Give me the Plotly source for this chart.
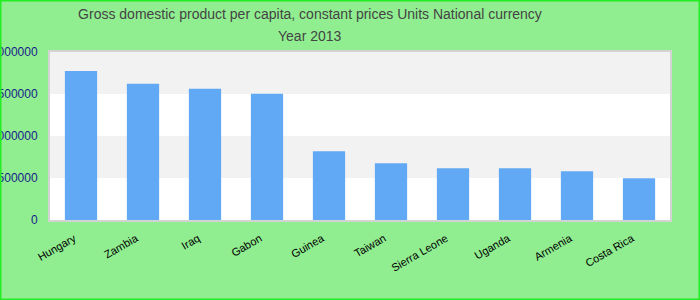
import plotly.graph_objects as go

countries = ["Hungary", "Zambia", "Iraq", "Gabon", "Guinea", "Taiwan",
             "Sierra Leone", "Uganda", "Armenia", "Costa Rica"]
gdp = [1775000, 1621000, 1562000, 1503000, 817000, 675000,
       615000, 615000, 580000, 497000]
y_ticks = [0, 500000, 1000000, 1500000, 2000000]
title_lines = ["Gross domestic product per capita, constant prices Units National currency",
               "Year 2013"]

L, R, T, B = 50, 30, 52, 80
PW, PH = 700 - L - R, 300 - T - B
TITLE_CX = 310

fig = go.Figure(go.Bar(x=countries, y=gdp, marker_color="#62a9f5",
                       marker_line_width=0, width=0.52))

shapes = []
for lo, hi in [(500000, 1000000), (1500000, 2000000)]:
    shapes.append(dict(type="rect", xref="paper", yref="y", x0=0, x1=1, y0=lo, y1=hi,
                       fillcolor="#f2f2f2", line_width=0, layer="below"))
# outer green border
shapes.append(dict(type="rect", xref="paper", yref="paper",
                   x0=-L/PW, x1=1+R/PW, y0=-B/PH, y1=1+T/PH,
                   line=dict(color="#22ee22", width=3), fillcolor="rgba(0,0,0,0)"))

fig.update_layout(
    width=700, height=300,
    margin=dict(l=L, r=R, t=T, b=B, autoexpand=False),
    paper_bgcolor="#90ee90",
    plot_bgcolor="white",
    font=dict(family="Liberation Sans, Arial, sans-serif", size=11, color="black"),
    title=dict(text=title_lines[0], x=TITLE_CX/700, xanchor="center",
               y=1 - 14/300, yanchor="middle",
               font=dict(size=14, color="#444444")),
    annotations=[dict(text=title_lines[1], xref="paper", yref="paper",
                      x=(TITLE_CX - L)/PW, y=1 + (T - 36)/PH,
                      xanchor="center", yanchor="middle",
                      showarrow=False, font=dict(size=14, color="#444444"))],
    shapes=shapes,
    showlegend=False,
)
fig.update_xaxes(tickangle=-30, showline=True, mirror=True, linecolor="#d3d3d3",
                 linewidth=2, showgrid=False, tickfont=dict(color="black", size=11),
                 range=[-0.5, 9.5], automargin=False,
                 ticklabelshift=-7, ticklabelstandoff=6)
fig.update_yaxes(range=[0, 2000000], tickvals=y_ticks, ticktext=[str(v) for v in y_ticks],
                 showgrid=False, zeroline=False, showline=True, mirror=True,
                 linecolor="#d3d3d3", linewidth=2, automargin=False,
                 tickfont=dict(color="#1a1a8a", size=12), ticklabelstandoff=8)

fig.write_html("out.html")
